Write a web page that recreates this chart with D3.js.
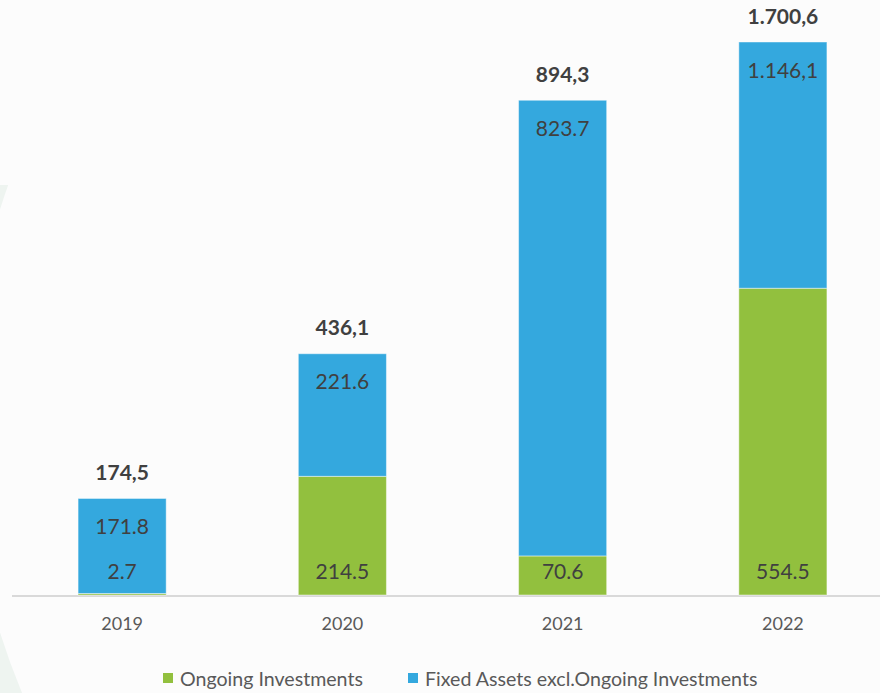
<!DOCTYPE html>
<html>
<head>
<meta charset="utf-8">
<script src="https://cdn.jsdelivr.net/npm/d3@7"></script>
<style>
  html, body { margin: 0; padding: 0; background: #fcfcfc; }
  svg { display: block; }
  text { font-family: Lato, "Open Sans", sans-serif; }
</style>
</head>
<body>
<svg id="chart" width="880" height="693"></svg>
<script>
// Fixed assets by year (millions)
const years = ["2019", "2020", "2021", "2022"];
const ongoingInvestments = [2.7, 214.5, 70.6, 554.5];
const fixedAssetsExclOngoing = [171.8, 221.6, 823.7, 1146.1];
const seriesNames = ["Ongoing Investments", "Fixed Assets excl.Ongoing Investments"];
const seriesColors = ["#92c03e", "#34a8de"];

const W = 880, H = 693;
const svg = d3.select("#chart");

// soft background decoration along the left edge
svg.append("rect").attr("width", W).attr("height", H).attr("fill", "#fcfcfc");
const defs = svg.append("defs");
defs.append("clipPath").attr("id", "decoClip")
  .append("rect").attr("x", 0).attr("y", 185).attr("width", W).attr("height", H - 185);
const deco = svg.append("g").attr("clip-path", "url(#decoClip)");
deco.append("rect").attr("width", 60).attr("height", H).attr("fill", "#eef4f0");
deco.append("circle")
  .attr("cx", 672.5).attr("cy", 421).attr("r", 705)
  .attr("fill", "#fcfcfc");

const x = d3.scaleBand()
  .domain(years)
  .range([12, 893])
  .paddingInner(0.6)
  .paddingOuter(0.3);

// linear up to ~900, upper range compressed so the 2022 column fits
const y = d3.scaleLinear()
  .domain([0, 900, 1700.6])
  .range([595, 97.1, 42]);

const rows = years.map((yr, i) => ({
  year: yr,
  ongoing: ongoingInvestments[i],
  fixed: fixedAssetsExclOngoing[i]
}));

const stack = d3.stack().keys(["ongoing", "fixed"]);
const layers = stack(rows);

const fmtDot = d3.format(".1f");
const euro = d3.formatLocale({ decimal: ",", thousands: ".", grouping: [3], currency: ["", ""] });
const fmtEuro = euro.format(",.1f");
const segLabel = v => v >= 1000 ? fmtEuro(v) : fmtDot(v);

// baseline
svg.append("line")
  .attr("x1", 12).attr("x2", 880)
  .attr("y1", 596).attr("y2", 596)
  .attr("stroke", "#d9d9d9").attr("stroke-width", 2);

// stacked bars
const g = svg.append("g");
layers.forEach((layer, li) => {
  g.selectAll(null)
    .data(layer)
    .join("rect")
    .attr("x", d => x(d.data.year))
    .attr("width", x.bandwidth())
    .attr("y", d => y(d[1]))
    .attr("height", d => y(d[0]) - y(d[1]))
    .attr("fill", seriesColors[li])
    .attr("stroke", "#ffffff")
    .attr("stroke-opacity", 0.45)
    .attr("stroke-width", 1);
});

// segment labels: ongoing at the base, fixed assets at the top
const labelColor = "#404040";
g.selectAll(null)
  .data(layers[0])
  .join("text")
  .attr("x", d => x(d.data.year) + x.bandwidth() / 2)
  .attr("y", d => y(0) - 25)
  .attr("text-anchor", "middle")
  .attr("dominant-baseline", "central")
  .attr("font-size", 21)
  .attr("fill", labelColor)
  .text(d => segLabel(d.data.ongoing));

g.selectAll(null)
  .data(layers[1])
  .join("text")
  .attr("x", d => x(d.data.year) + x.bandwidth() / 2)
  .attr("y", d => y(d[1]) + 27)
  .attr("text-anchor", "middle")
  .attr("dominant-baseline", "central")
  .attr("font-size", 21)
  .attr("fill", labelColor)
  .text(d => segLabel(d.data.fixed));

// totals above each column
g.selectAll(null)
  .data(layers[1])
  .join("text")
  .attr("x", d => x(d.data.year) + x.bandwidth() / 2)
  .attr("y", d => y(d[1]) - 27)
  .attr("text-anchor", "middle")
  .attr("dominant-baseline", "central")
  .attr("font-size", 21)
  .attr("font-weight", "bold")
  .attr("fill", labelColor)
  .text(d => fmtEuro(Math.round(d[1] * 10) / 10));

// year axis labels
const xAxis = svg.append("g")
  .attr("transform", "translate(0,596)")
  .call(d3.axisBottom(x).tickSize(0).tickPadding(0));
xAxis.select(".domain").remove();
xAxis.selectAll("text")
  .attr("y", 28)
  .attr("dy", "0.35em")
  .attr("font-size", 18)
  .attr("font-family", "Lato, 'Open Sans', sans-serif")
  .attr("fill", "#595959");

// legend
const legendItems = [
  { name: seriesNames[0], color: seriesColors[0], x: 163 },
  { name: seriesNames[1], color: seriesColors[1], x: 408 }
];
const lg = svg.append("g");
legendItems.forEach(it => {
  lg.append("rect")
    .attr("x", it.x).attr("y", 673)
    .attr("width", 10).attr("height", 10)
    .attr("fill", it.color);
  lg.append("text")
    .attr("x", it.x + 17).attr("y", 678)
    .attr("dominant-baseline", "central")
    .attr("font-size", 19.6)
    .attr("fill", "#595959")
    .text(it.name);
});
</script>
</body>
</html>
